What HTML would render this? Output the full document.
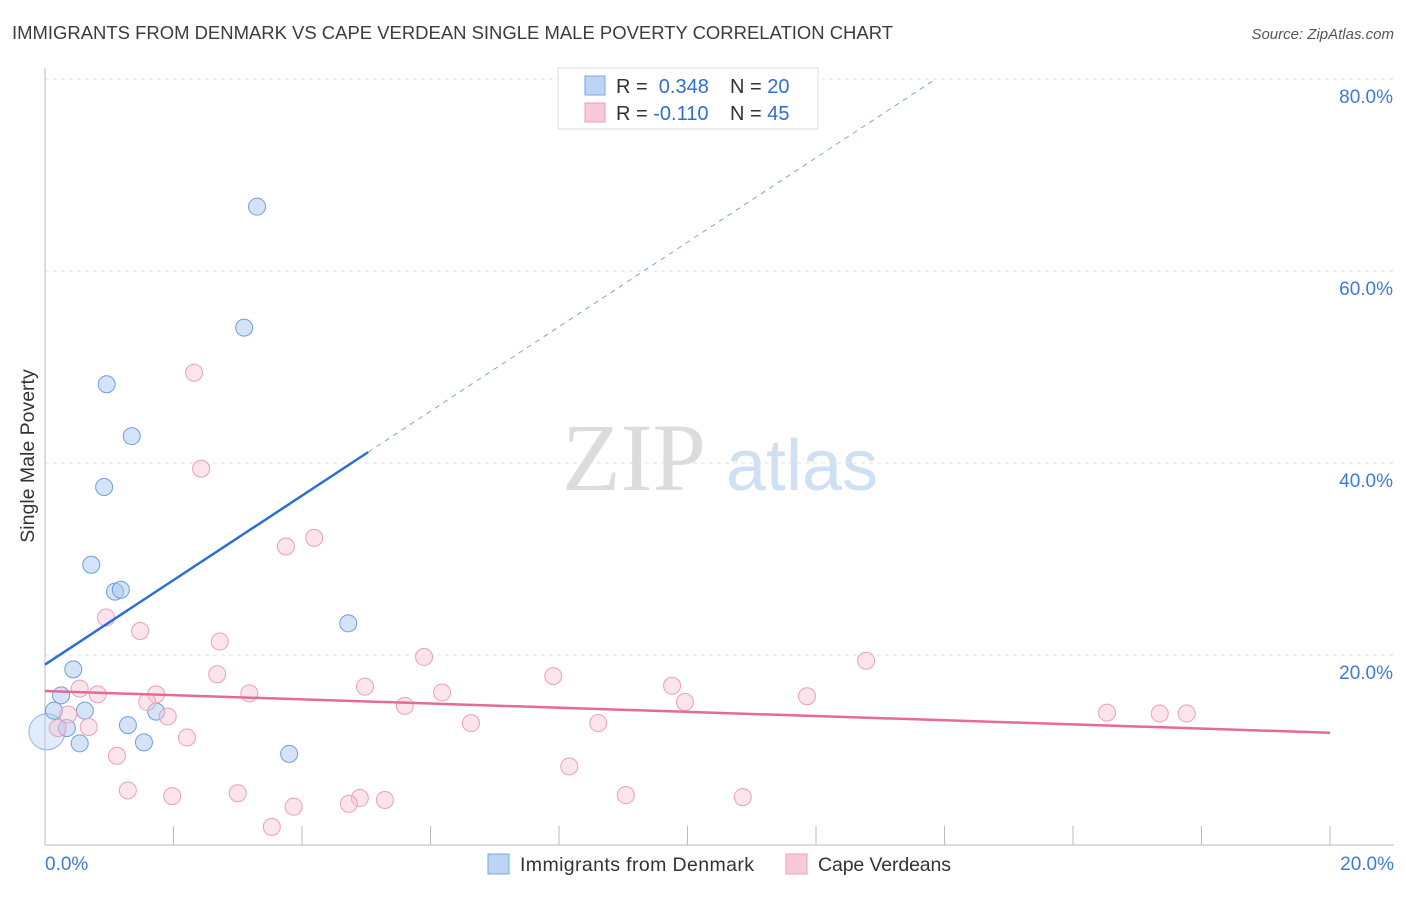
<!DOCTYPE html>
<html><head><meta charset="utf-8"><style>
body{margin:0;background:#fff;font-family:"Liberation Sans",sans-serif}
</style></head><body>
<svg id="c" width="1406" height="892" xmlns="http://www.w3.org/2000/svg">
<text x="12" y="39" font-size="18" fill="#3c3c3c" textLength="881" lengthAdjust="spacingAndGlyphs">IMMIGRANTS FROM DENMARK VS CAPE VERDEAN SINGLE MALE POVERTY CORRELATION CHART</text>
<text x="1394" y="39" font-size="15" fill="#555" font-style="italic" text-anchor="end">Source: ZipAtlas.com</text>
<text x="634" y="490" font-size="96" fill="#dcdcdc" font-family="Liberation Serif,serif" text-anchor="middle">ZIP</text>
<text x="802" y="490" font-size="72" fill="#cfe0f3" text-anchor="middle">atlas</text>
<text transform="translate(34,456) rotate(-90)" font-size="19.5" fill="#333" text-anchor="middle">Single Male Poverty</text>
<g id="grid"></g><g id="pts"></g><g id="lines"></g>
<g>
<rect x="558" y="68" width="260" height="61" fill="#fff" stroke="#ddd"/>
<rect x="585" y="76" width="20" height="19" fill="#bcd5f5" stroke="#7aa6e0"/>
<rect x="585" y="103" width="20" height="19" fill="#f8c9d8" stroke="#eba1b9"/>
<text x="616" y="93" font-size="20" fill="#333">R = <tspan fill="#2f6fd0">&#160;0.348</tspan><tspan x="730">N = </tspan><tspan fill="#2f6fd0">20</tspan></text>
<text x="616" y="120" font-size="20" fill="#333">R = <tspan fill="#2f6fd0">-0.110</tspan><tspan x="730">N = </tspan><tspan fill="#2f6fd0">45</tspan></text>
</g>
<g>
<rect x="488" y="854" width="21" height="20" fill="#bcd5f5" stroke="#7aa6e0"/>
<text x="520" y="871" font-size="19.5" fill="#333" textLength="234">Immigrants from Denmark</text>
<rect x="786" y="854" width="21" height="20" fill="#f8c9d8" stroke="#eba1b9"/>
<text x="818" y="871" font-size="19.5" fill="#333" textLength="133">Cape Verdeans</text>
</g>
</svg>
<script>
const yTicks=[20,40,60,80];
const xTickLabels=["0.0%","20.0%"];
const blueX=[3.30,3.10,0.96,1.35,0.92,0.72,1.09,1.18,4.72,0.44,0.25,0.14,0.62,1.73,1.29,0.34,0.54,1.54,3.80];
const blueY=[66.7,54.1,48.2,42.8,37.5,29.4,26.6,26.8,23.3,18.5,15.8,14.2,14.2,14.1,12.7,12.4,10.8,10.9,9.7];
const pinkX=[2.32,2.43,4.19,3.75,0.95,1.48,2.72,5.90,12.78,2.68,7.91,0.54,4.98,9.76,0.82,1.73,3.18,6.18,11.86,1.59,9.96,5.60,0.36,1.91,16.53,17.35,17.77,0.68,0.20,6.63,8.61,2.21,1.12,8.16,1.29,1.98,3.00,9.04,10.86,4.90,5.29,4.73,3.87,3.53];
const pinkY=[49.4,39.4,32.2,31.3,23.9,22.5,21.4,19.8,19.4,18.0,17.8,16.5,16.7,16.8,15.9,15.9,16.0,16.1,15.7,15.1,15.1,14.7,13.8,13.6,14.0,13.9,13.9,12.5,12.4,12.9,12.9,11.4,9.5,8.4,5.9,5.3,5.6,5.4,5.2,5.1,4.9,4.5,4.2,2.1];
const blueTrend=[19.0,4.4]; // intercept, slope
const pinkTrend=[16.25,-0.2175];
const sx=v=>45+v*1285/20, sy=v=>847-v*9.6;
const NS="http://www.w3.org/2000/svg";
function mk(t,a,p){const e=document.createElementNS(NS,t);for(const k in a)e.setAttribute(k,a[k]);p.appendChild(e);return e;}
const g=document.getElementById('grid');
for(const t of yTicks){
 const l=mk('line',{x1:45,x2:1394,y1:sy(t),y2:sy(t),stroke:'#e2e2e2','stroke-dasharray':'4 4'},g);
 
 
 const tx=mk('text',{x:1393,y:sy(t)+24,'font-size':19,fill:'#3d7bd6','text-anchor':'end'},g);
 tx.textContent=t.toFixed(1)+'%';
 
 
}
mk('line',{x1:45,x2:45,y1:68,y2:845,stroke:'#bbb'},g);
mk('line',{x1:45,x2:1394,y1:845,y2:845,stroke:'#bbb'},g);
for(let i=0;i<=10;i++){mk('line',{x1:sx(i*2),x2:sx(i*2),y1:826,y2:845,stroke:'#bbb'},g);}
[0,20].forEach((v,i)=>{const t=mk('text',{x:i?1394:45,y:870,'font-size':19,fill:'#3d7bd6','text-anchor':i?'end':'start'},g);t.textContent=xTickLabels[i];

});
const p=document.getElementById('pts');
const big=mk('circle',{cx:sx(0.03),cy:sy(12.0),r:18,fill:'rgba(170,200,242,0.35)',stroke:'#8fb3e6'},p);


blueX.forEach((x,i)=>{const c=mk('circle',{cx:sx(x),cy:sy(blueY[i]),r:8.5,fill:'rgba(170,200,242,0.5)',stroke:'#6f9fdf'},p);

});
pinkX.forEach((x,i)=>{const c=mk('circle',{cx:sx(x),cy:sy(pinkY[i]),r:8.5,fill:'rgba(248,195,212,0.45)',stroke:'#eaa0b8'},p);

});
const L=document.getElementById('lines');
const bx2=5.03, bx3=(80-blueTrend[0])/blueTrend[1];
const b1=mk('line',{x1:sx(0),y1:sy(blueTrend[0]),x2:sx(bx2),y2:sy(blueTrend[0]+blueTrend[1]*bx2),stroke:'#2a6fd1','stroke-width':2.5},L);


const b2=mk('line',{x1:sx(bx2),y1:sy(blueTrend[0]+blueTrend[1]*bx2),x2:sx(bx3),y2:sy(80),stroke:'#7aa6e0','stroke-width':1,'stroke-dasharray':'5 5'},L);


const pl=mk('line',{x1:sx(0),y1:sy(pinkTrend[0]),x2:sx(20),y2:sy(pinkTrend[0]+pinkTrend[1]*20),stroke:'#e66a96','stroke-width':2.5},L);


</script>
</body></html>
